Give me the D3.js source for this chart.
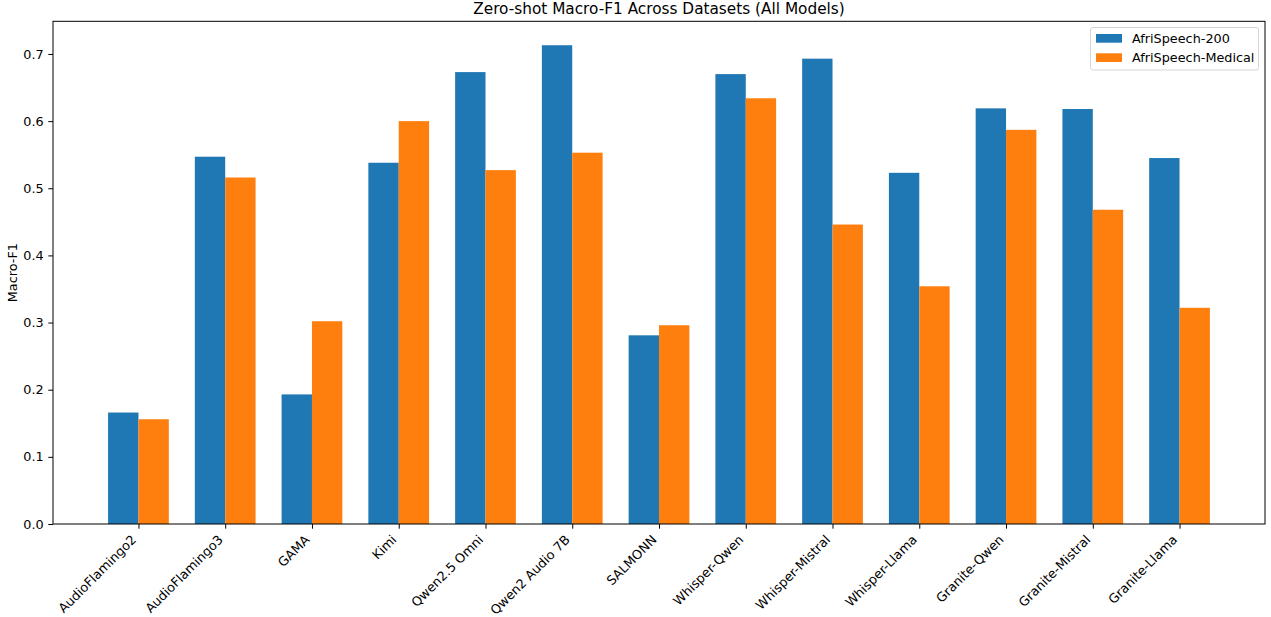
<!DOCTYPE html>
<html>
<head>
<meta charset="utf-8">
<script src="https://cdn.jsdelivr.net/npm/d3@7/dist/d3.min.js"></script>
<style>
  html, body { margin: 0; padding: 0; background: #fff; }
  svg { display: block; font-family: "DejaVu Sans", sans-serif; }
</style>
</head>
<body>
<svg id="chart" width="1271" height="617"></svg>
<script>
const categories = ["AudioFlamingo2", "AudioFlamingo3", "GAMA", "Kimi", "Qwen2.5 Omni", "Qwen2 Audio 7B", "SALMONN", "Whisper-Qwen", "Whisper-Mistral", "Whisper-Llama", "Granite-Qwen", "Granite-Mistral", "Granite-Llama"];
const afri200 = [0.166, 0.547, 0.193, 0.538, 0.673, 0.713, 0.281, 0.670, 0.693, 0.523, 0.619, 0.618, 0.545];
const afriMedical = [0.156, 0.516, 0.302, 0.600, 0.527, 0.553, 0.296, 0.634, 0.446, 0.354, 0.587, 0.468, 0.322];
const seriesNames = ["AfriSpeech-200", "AfriSpeech-Medical"];
const seriesColors = ["#1f77b4", "#ff7f0e"];
const yTicks = [0.0, 0.1, 0.2, 0.3, 0.4, 0.5, 0.6, 0.7];
const title = "Zero-shot Macro-F1 Across Datasets (All Models)";
const yLabel = "Macro-F1";

const svg = d3.select("#chart");
const L = 53, R = 1265, T = 21.3, B = 524;
const FS = "12.8px";
const barW = 0.35;
const n = categories.length;
const span = (n - 1) + 2 * barW;
const xMin = -barW - 0.05 * span, xMax = (n - 1) + barW + 0.05 * span;
const x = d3.scaleLinear().domain([xMin, xMax]).range([L, R]);
const yMax = 0.713 * 1.05;
const y = d3.scaleLinear().domain([0, yMax]).range([B, T]);

const series = [afri200, afriMedical];
series.forEach((vals, s) => {
  svg.append("g").selectAll("rect").data(vals).join("rect")
    .attr("x", (d, i) => x(i + (s === 0 ? -barW : 0)))
    .attr("width", (d, i) => x(i + barW) - x(i))
    .attr("y", d => y(d))
    .attr("height", d => y(0) - y(d))
    .attr("fill", seriesColors[s]);
});

// y axis
const yAxis = d3.axisLeft(y).tickValues(yTicks).tickFormat(d3.format(".1f")).tickSize(4.7).tickPadding(4.7);
const gy = svg.append("g").attr("transform", `translate(${L},0)`).call(yAxis);
gy.select(".domain").remove();
gy.selectAll("line").attr("stroke", "#000").attr("stroke-width", 1);
gy.selectAll("text").attr("font-size", FS).attr("fill", "#000").attr("font-family", "DejaVu Sans");

// x axis
const xAxis = d3.axisBottom(x).tickValues(d3.range(n)).tickFormat(i => categories[i]).tickSize(4.7).tickPadding(4.7);
const gx = svg.append("g").attr("transform", `translate(0,${B})`).call(xAxis);
gx.select(".domain").remove();
gx.selectAll("line").attr("stroke", "#000").attr("stroke-width", 1);
gx.selectAll("text")
  .attr("font-size", FS).attr("fill", "#000").attr("font-family", "DejaVu Sans")
  .attr("text-anchor", "end")
  .attr("dy", null)
  .attr("y", 0)
  .attr("transform", "translate(-2,16.5) rotate(-45)");

// spines
svg.append("rect").attr("x", L).attr("y", T).attr("width", R - L).attr("height", B - T)
  .attr("fill", "none").attr("stroke", "#000").attr("stroke-width", 1);

// title
svg.append("text").attr("x", (L + R) / 2).attr("y", 13.5).attr("text-anchor", "middle")
  .attr("font-size", "15.3px").attr("fill", "#000").text(title);

// y label
svg.append("text").attr("transform", `translate(17,${(T + B) / 2}) rotate(-90)`)
  .attr("text-anchor", "middle").attr("font-size", FS).attr("fill", "#000").text(yLabel);

// legend
const lg = svg.append("g");
lg.append("rect").attr("x", 1090.5).attr("y", 27.5).attr("width", 168).attr("height", 42.5)
  .attr("rx", 2.5).attr("fill", "#fff").attr("fill-opacity", 0.8).attr("stroke", "#d6d6d6").attr("stroke-width", 1);
seriesNames.forEach((name, i) => {
  const yy = 34 + i * 19.3;
  lg.append("rect").attr("x", 1096).attr("y", yy).attr("width", 26).attr("height", 8.7).attr("fill", seriesColors[i]);
  lg.append("text").attr("x", 1132).attr("y", yy + 8.7).attr("font-size", FS).attr("fill", "#000").text(name);
});
</script>
</body>
</html>
